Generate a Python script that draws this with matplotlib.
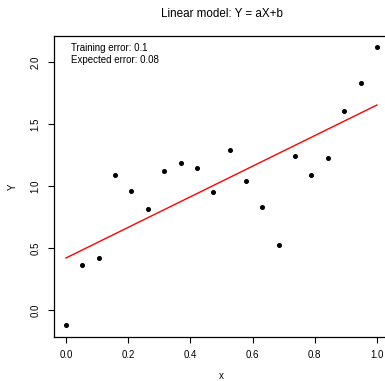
import numpy as np
import matplotlib
matplotlib.use("Agg")
from matplotlib import pyplot as plt

# data
x = np.arange(20) / 19
y = [-0.12, 0.37, 0.42, 1.09, 0.965, 0.82, 1.126, 1.19, 1.15, 0.952,
     1.29, 1.043, 0.83, 0.527, 1.242, 1.089, 1.226, 1.607, 1.836, 2.121]
x_ticks = [0.0, 0.2, 0.4, 0.6, 0.8, 1.0]
y_ticks = [0.0, 0.5, 1.0, 1.5, 2.0]
train_err = 0.1
expected_err = 0.08

plt.rcParams['font.family'] = ['Liberation Sans', 'DejaVu Sans']
plt.rcParams['font.size'] = 7

W, H = 385, 381
fig = plt.figure(figsize=(W/100, H/100), dpi=100)
ax = fig.add_axes([53.5/W, 1-336.5/H, (389.4-53.5)/W, (336.5-36)/H])

a, b = np.polyfit(x, y, 1)
ax.plot([0, 1], [b, a+b], color='red', lw=1)
ax.plot(x, y, 'o', color='black', ms=2.6)

ax.set_xlim(-0.04, 1.04)
yr = max(y) - min(y)
ax.set_ylim(min(y) - 0.04*yr, max(y) + 0.04*yr)
ax.set_xticks(x_ticks)
ax.set_xticklabels(['%.1f' % t for t in x_ticks])
ax.set_yticks(y_ticks)
ax.set_yticklabels(['%.1f' % t for t in y_ticks], rotation=90, va='center')
ax.tick_params(direction='out', length=4.5, width=0.8, pad=5)
for s in ax.spines.values():
    s.set_linewidth(0.9)

ax.set_xlabel('x', labelpad=8)
ax.set_ylabel('Y', labelpad=9)
ax.set_title('Linear model: Y = aX+b', pad=14)

ax.text(0.016, 2.066, 'Training error: %s\nExpected error: %s' % (train_err, expected_err),
        ha='left', va='center', linespacing=1.3)

fig.savefig('out.png', dpi=100)
